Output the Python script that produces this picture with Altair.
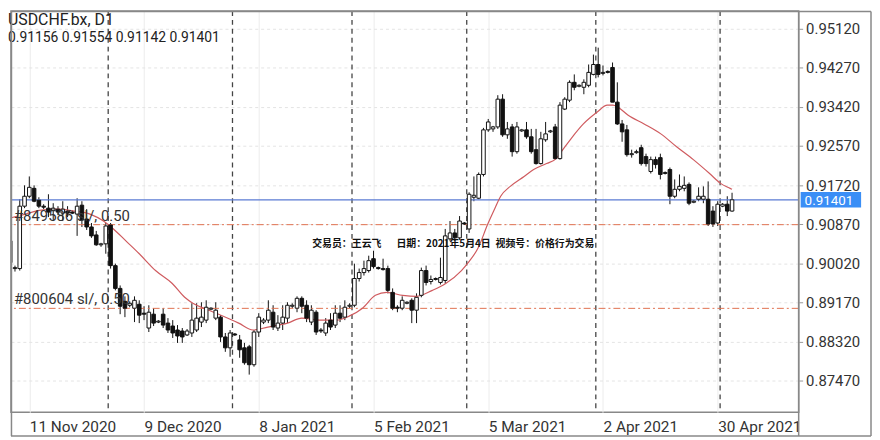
import altair as alt
import pandas as pd

# ---- candle data (USDCHF daily, incl. Sunday bars) ----
opens = [0.90508,0.89905,0.89905,0.91262,0.91478,0.9165,0.91392,0.91262,0.91219,0.91176,
         0.91198,0.91111,0.91155,0.91133,0.9109,0.91284,0.90982,0.9081,0.90637,0.90422,
         0.90443,0.90853,0.89969,0.89474,0.89193,0.89107,0.89043,0.89129,0.88935,0.88612,
         0.88913,0.88741,0.88913,0.88719,0.88655,0.88569,0.88547,0.88461,0.88504,0.88569,
         0.88741,0.88784,0.89021,0.88827,0.88849,0.88418,0.88181,0.88482,0.88353,0.88181,
         0.88202,0.87814,0.88525,0.88741,0.88784,0.88956,0.88612,0.88719,0.88827,0.89086,
         0.89043,0.89258,0.89107,0.88741,0.88956,0.88569,0.88504,0.88784,0.88676,0.88935,
         0.88849,0.89086,0.89107,0.89689,0.89818,0.89862,0.9012,0.89926,0.89905,0.89905,
         0.89387,0.89064,0.89043,0.8915,0.89215,0.89,0.89323,0.89862,0.89624,0.89668,
         0.89603,0.89646,0.90551,0.9068,0.90573,0.90896,0.90767,0.91456,0.91435,0.91952,
         0.92922,0.92943,0.92986,0.9359,0.92814,0.92986,0.92448,0.929,0.92922,0.92771,
         0.92491,0.92189,0.92706,0.92879,0.92986,0.92297,0.93374,0.93568,0.93956,0.9387,
         0.93848,0.93891,0.94128,0.94344,0.9415,0.94193,0.94279,0.93525,0.93051,0.92922,
         0.92383,0.92426,0.92534,0.9234,0.92017,0.92275,0.92318,0.91973,0.9206,0.91478,
         0.91629,0.9165,0.91736,0.91348,0.91413,0.91413,0.91413,0.91155,0.90896,0.91262,
         0.91305,0.91156]
highs = [0.90616,0.89969,0.91413,0.91715,0.91909,0.91715,0.91456,0.91305,0.91521,0.91327,
         0.91262,0.9137,0.91262,0.91176,0.91435,0.9137,0.91198,0.90896,0.90724,0.90465,
         0.90896,0.90896,0.90012,0.89538,0.89301,0.89193,0.89301,0.89215,0.89086,0.89107,
         0.89043,0.88784,0.89043,0.88827,0.88784,0.88676,0.88612,0.8859,0.8915,0.8915,
         0.89172,0.89215,0.89064,0.89172,0.88892,0.88504,0.88569,0.88504,0.88461,0.88288,
         0.88245,0.88569,0.88935,0.88827,0.89215,0.89107,0.88892,0.89107,0.89172,0.8915,
         0.89301,0.89301,0.89215,0.89107,0.89,0.88612,0.88827,0.88935,0.89107,0.89107,
         0.89215,0.8915,0.90012,0.89905,0.90077,0.90185,0.90293,0.89948,0.9012,0.89969,
         0.89474,0.89107,0.89301,0.89193,0.89258,0.89366,0.89926,0.89969,0.89754,0.89711,
         0.90142,0.90767,0.90939,0.90767,0.91047,0.90917,0.91564,0.91909,0.91995,0.92965,
         0.93159,0.93008,0.93676,0.93697,0.93094,0.93051,0.93094,0.92943,0.93094,0.92943,
         0.92943,0.92879,0.93094,0.92922,0.93051,0.93525,0.93633,0.93999,0.94128,0.93913,
         0.94021,0.94344,0.94559,0.9471,0.94322,0.94215,0.94387,0.93956,0.93137,0.93029,
         0.92491,0.92491,0.92598,0.92404,0.9234,0.9234,0.92404,0.92017,0.92103,0.91844,
         0.91952,0.91909,0.91779,0.91392,0.91672,0.91693,0.91801,0.91262,0.9137,0.91327,
         0.91478,0.91554]
lows = [0.89862,0.8984,0.89862,0.91219,0.91435,0.91348,0.91219,0.91198,0.91025,0.90939,
        0.91068,0.90939,0.91025,0.9109,0.90616,0.9081,0.90745,0.90573,0.904,0.90379,
        0.90228,0.89905,0.89431,0.88913,0.88849,0.89064,0.88741,0.88719,0.88784,0.88525,
        0.88655,0.88719,0.88612,0.88504,0.88396,0.88288,0.88288,0.88439,0.88418,0.88525,
        0.88633,0.88719,0.89,0.88784,0.8831,0.88094,0.87987,0.88439,0.87965,0.87814,
        0.87599,0.87771,0.88418,0.88698,0.88719,0.88569,0.88547,0.88569,0.88719,0.89043,
        0.88956,0.88935,0.88741,0.88676,0.88461,0.88504,0.88439,0.88569,0.88612,0.88741,
        0.88784,0.89043,0.89064,0.89624,0.89754,0.89818,0.89905,0.89883,0.89862,0.89366,
        0.89,0.88956,0.89,0.89129,0.88719,0.88719,0.8928,0.89538,0.8956,0.89646,
        0.8956,0.89581,0.90508,0.90508,0.9053,0.90853,0.9068,0.9137,0.91413,0.91909,
        0.92879,0.92879,0.92943,0.92771,0.92728,0.9234,0.92404,0.92879,0.92728,0.92404,
        0.92167,0.92167,0.92663,0.92857,0.92275,0.92275,0.93353,0.93525,0.93784,0.93848,
        0.93697,0.93848,0.94107,0.94064,0.94107,0.9415,0.93525,0.93029,0.92663,0.9234,
        0.92318,0.92404,0.92146,0.92124,0.91973,0.92081,0.91844,0.91952,0.91305,0.91435,
        0.91586,0.91586,0.91284,0.91327,0.9137,0.91327,0.90831,0.9081,0.90831,0.91241,
        0.91047,0.91142]
closes = [0.90034,0.89926,0.91262,0.91478,0.91672,0.9137,0.91262,0.91241,0.91133,0.91219,
          0.91133,0.91198,0.91111,0.91111,0.91262,0.90961,0.9081,0.90616,0.90422,0.90443,
          0.90831,0.89969,0.89474,0.89086,0.89043,0.8915,0.89215,0.88892,0.88913,0.88956,
          0.88719,0.88762,0.88676,0.88569,0.88504,0.88439,0.88418,0.88547,0.88784,0.88827,
          0.88849,0.89064,0.89043,0.89,0.88418,0.88181,0.88504,0.88461,0.88138,0.87857,
          0.87814,0.88525,0.88849,0.88784,0.89,0.88633,0.88719,0.88849,0.89107,0.89107,
          0.89258,0.89086,0.88827,0.89,0.88525,0.88547,0.88719,0.88633,0.88935,0.88827,
          0.89064,0.89107,0.89689,0.89818,0.89905,0.90077,0.89948,0.89905,0.89883,0.89431,
          0.89043,0.89043,0.89215,0.89172,0.89,0.8928,0.89862,0.89603,0.89668,0.89689,
          0.89711,0.90616,0.9068,0.90573,0.90939,0.90874,0.91521,0.91499,0.91952,0.92922,
          0.93094,0.92986,0.9359,0.92814,0.92943,0.92448,0.92986,0.92922,0.92771,0.92448,
          0.92189,0.92728,0.92835,0.929,0.92297,0.9346,0.9359,0.93956,0.93848,0.93891,
          0.93956,0.94172,0.94344,0.94128,0.94172,0.94172,0.93525,0.93051,0.92879,0.92383,
          0.92404,0.92448,0.92189,0.92189,0.92275,0.92167,0.91952,0.91995,0.91478,0.91629,
          0.91693,0.91715,0.91327,0.9137,0.91478,0.91478,0.90874,0.90874,0.91305,0.91305,
          0.91155,0.91401]

# moving average (bar index, price)
ma_idx = [0,3.2,6.5,10,13.4,16.7,19.5,21.6,24.2,27,30.4,33.9,36.5,38.2,41.6,47.8,50.8,53.9,
          58,61,64.7,68.2,70.9,73.7,76.4,78.8,82.1,85,88.3,91.1,94.4,95.8,97.9,99.9,101.4,
          102.6,104.6,107.5,109.5,112.2,114.2,115.3,117.3,119.9,122.8,124.9,126.1,127.1,
          129.2,132.6,136.1,139.4,142.9,146.3,148.6,150.6,151]
ma_val = [0.91004,0.9109,0.91176,0.91198,0.91155,0.9109,0.90939,0.90767,0.90508,0.90228,
          0.89862,0.89581,0.8928,0.8915,0.89,0.88719,0.88569,0.88633,0.88719,0.88827,0.88784,
          0.88784,0.8887,0.89043,0.89323,0.89387,0.89323,0.89301,0.89431,0.89581,0.89862,
          0.90034,0.90357,0.90874,0.91219,0.91478,0.91693,0.91909,0.9206,0.92189,0.92297,
          0.92448,0.92728,0.93051,0.9331,0.9346,0.9346,0.93417,0.93245,0.93051,0.92835,
          0.92555,0.92275,0.91973,0.91758,0.9165,0.91629]

y_ticks = [0.8747, 0.8832, 0.8917, 0.9002, 0.9087, 0.9172, 0.9257, 0.9342, 0.9427, 0.9512]
x_label_idx = [4, 28, 52, 76, 100, 124, 148]
x_label_txt = ["11 Nov 2020", "9 Dec 2020", "8 Jan 2021", "5 Feb 2021",
               "5 Mar 2021", "2 Apr 2021", "30 Apr 2021"]
month_sep = [20.5, 46.5, 71.5, 95.5, 122.5, 148.5]
bid = 0.91401
order_levels = [0.9086, 0.8904]
order_labels = ["#849586 sl/, 0.50", "#800604 sl/, 0.50"]
symbol_title = "USDCHF.bx, D1"
ohlc_line = "0.91156 0.91554 0.91142 0.91401"
wm_parts = ["交易员：王云飞", "日期：2021年5月4日", "视频号：价格行为交易"]
wm_x = [304, 389, 489]

W, H = 795, 405
FONT = "Roboto"

df = pd.DataFrame({"i": list(range(len(opens))), "o": opens, "h": highs, "l": lows, "c": closes})
df["up"] = df["c"] >= df["o"]
ma = pd.DataFrame({"i": ma_idx, "v": ma_val})

xs = alt.Scale(domain=[1.2, 163.9], nice=False, zero=False)
ys = alt.Scale(domain=[0.8678, 0.95508], nice=False, zero=False)

lab_expr = " : ".join(f"datum.value == {k} ? '{t}'" for k, t in zip(x_label_idx, x_label_txt)) + " : ''"

xaxis = alt.Axis(values=x_label_idx, labelExpr=lab_expr, labelAlign="left", labelPadding=7,
                 labelFontSize=15.5, labelFont=FONT, labelColor="#333", ticks=False, domain=False,
                 grid=True, gridColor="#ececec", title=None, labelOverlap=False, labelBound=False,
                 labelFlush=False)
yaxis = alt.Axis(orient="right", values=y_ticks, format=".5f", labelFontSize=15, labelFont=FONT,
                 labelColor="#333", tickSize=4, tickColor="#999", labelPadding=3, domain=False,
                 grid=True, gridColor="#e4e4e4", gridDash=[3, 3], title=None, labelOverlap=False,
                 labelFlush=False)


def X(field):
    return alt.X(field, scale=xs, axis=xaxis)


def Y(field):
    return alt.Y(field, scale=ys, axis=yaxis)


wicks = alt.Chart(df).mark_rule(color="#111", strokeWidth=1, clip=True).encode(
    x=X("i:Q"), y=Y("l:Q"), y2="h:Q")

seps = alt.Chart(pd.DataFrame({"i": month_sep})).mark_rule(
    color="#444", strokeDash=[5, 4], strokeWidth=1.3).encode(x=X("i:Q"))

bodies = alt.Chart(df).mark_bar(size=3.6, stroke="#111", strokeWidth=1, clip=True).encode(
    x=X("i:Q"), y=Y("o:Q"), y2="c:Q",
    fill=alt.condition("datum.up", alt.value("white"), alt.value("#111")),
)

ma_line = alt.Chart(ma).mark_line(color="#cf5b5f", strokeWidth=1.2, interpolate="monotone",
                                  clip=True).encode(x=X("i:Q"), y=Y("v:Q"))

bid_line = alt.Chart(pd.DataFrame({"p": [bid]})).mark_rule(color="#5b7bd3", strokeWidth=1.2).encode(
    y=Y("p:Q"))

orders = pd.DataFrame({"p": order_levels, "t": order_labels})
order_lines = alt.Chart(orders).mark_rule(color="#e0704f", strokeDash=[7, 3, 2, 3], strokeWidth=1).encode(
    y=Y("p:Q"))
order_text = alt.Chart(orders).mark_text(align="left", baseline="bottom", dy=-1, fontSize=15,
                                         font=FONT, color="#333").encode(
    x=alt.value(3), y=Y("p:Q"), text="t:N")

title1 = alt.Chart(pd.DataFrame({"t": [symbol_title]})).mark_text(
    align="left", baseline="top", fontSize=16, font=FONT, color="#222").encode(
    x=alt.value(-3), y=alt.value(1), text="t:N")
title2 = alt.Chart(pd.DataFrame({"t": [ohlc_line]})).mark_text(
    align="left", baseline="top", fontSize=14, font=FONT, color="#222").encode(
    x=alt.value(-3), y=alt.value(20), text="t:N")

wm = alt.Chart(pd.DataFrame({"t": wm_parts, "px": wm_x})).mark_text(
    align="left", baseline="middle", fontSize=10, fontWeight="bold", font="Noto Sans CJK SC",
    color="#111").encode(x=alt.X("px:Q", scale=None, axis=None), y=alt.value(235), text="t:N")

tag = pd.DataFrame({"p": [bid], "lo": [bid - 0.0017], "hi": [bid + 0.0017], "t": ["0.91401"]})
tag_rect = alt.Chart(tag).mark_rect(color="#3a8ef6").encode(
    x=alt.value(797), x2=alt.value(858), y=Y("lo:Q"), y2="hi:Q")
tag_text = alt.Chart(tag).mark_text(align="left", baseline="middle", dy=1.5, fontSize=13.5, font=FONT,
                                    color="white").encode(
    x=alt.value(801), y=Y("p:Q"), text="t:N")

one = pd.DataFrame({"a": [0]})
frame_r = alt.Chart(one).mark_rule(color="#888", strokeWidth=1.5).encode(
    x=alt.value(868), y=alt.value(0.5), y2=alt.value(429))
frame_b = alt.Chart(one).mark_rule(color="#888", strokeWidth=1.5).encode(
    x=alt.value(0), x2=alt.value(868), y=alt.value(429))
frame_l = alt.Chart(one).mark_rule(color="#888", strokeWidth=1.5).encode(
    x=alt.value(0.5), y=alt.value(0.5), y2=alt.value(429))
frame_t = alt.Chart(one).mark_rule(color="#888", strokeWidth=1.5).encode(
    x=alt.value(0.5), x2=alt.value(868), y=alt.value(0.5))
frame_m = alt.Chart(one).mark_rule(color="#888", strokeWidth=1.5).encode(
    x=alt.value(W), y=alt.value(0.5), y2=alt.value(429))

chart = alt.layer(
    wicks, seps, bid_line, order_lines, ma_line, bodies, order_text, title1, title2, wm,
    tag_rect, tag_text, frame_r, frame_b, frame_l, frame_t, frame_m,
).properties(width=W, height=H, padding=0).configure_view(stroke="#888", strokeWidth=1.5)

chart.save("out.html", embed_options={"renderer": "svg", "actions": False})
